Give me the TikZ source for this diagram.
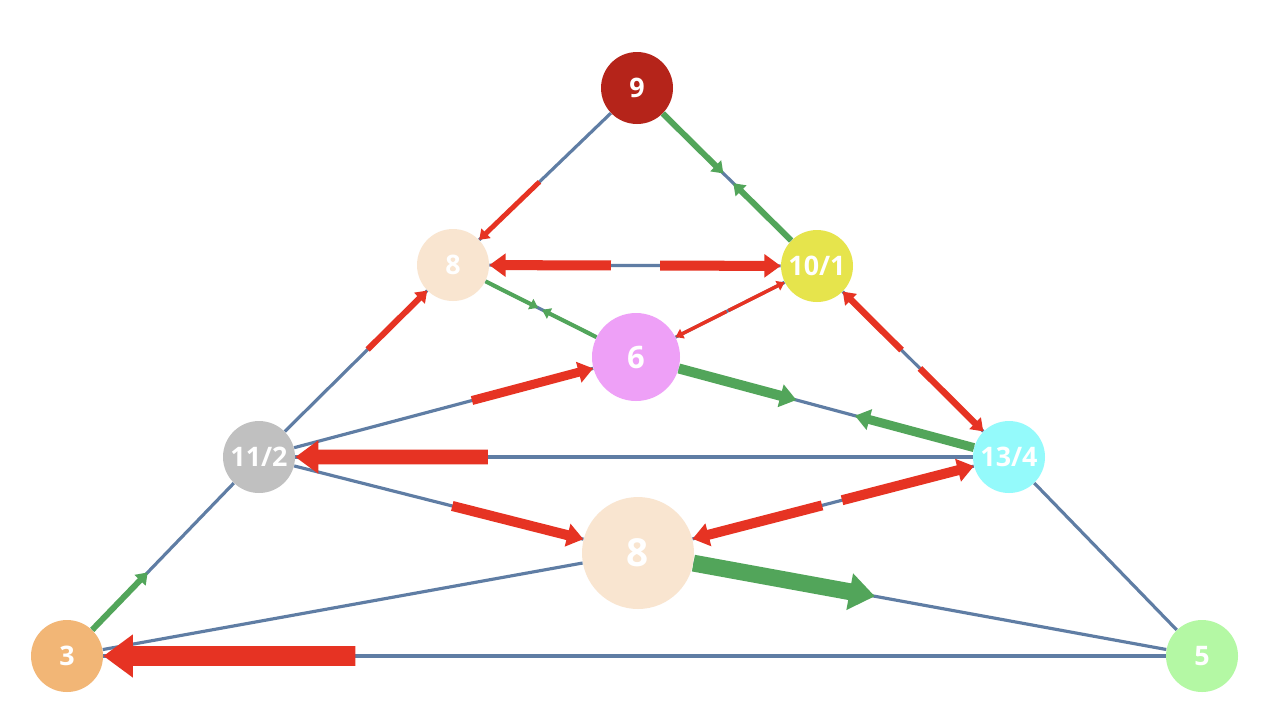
\documentclass[tikz,border=0pt]{standalone}
\usepackage{fontspec}
\newfontfamily\statefont{Open Sans}
\usetikzlibrary{arrows.meta,calc}

\definecolor{linkblue}{HTML}{5F7DA4}
\definecolor{flowred}{HTML}{E63323}
\definecolor{flowgreen}{HTML}{52A55A}
\definecolor{cnine}{HTML}{B5241A}
\definecolor{ceight}{HTML}{F9E5D0}
\definecolor{cten}{HTML}{E6E44C}
\definecolor{csix}{HTML}{EEA0F7}
\definecolor{celeven}{HTML}{C0C0C0}
\definecolor{cthirteen}{HTML}{94FAFB}
\definecolor{cthree}{HTML}{F2B676}
\definecolor{cfive}{HTML}{B4F8A4}

\begin{document}
\begin{tikzpicture}[x=0.02cm,y=-0.02cm,
    state/.style={circle,inner sep=0pt,minimum size=1.44cm,text=white,
      font=\statefont\bfseries\fontsize{15.3pt}{18pt}\selectfont},
    link/.style={linkblue,line width=1.8pt},
    redflow/.style={flowred,line width=#1,
      -{Triangle[length=1.6pt 1.35,width=2pt 1.9]}},
    greenflow/.style={flowgreen,line width=#1,
      -{Triangle[length=1.6pt 1.35,width=2pt 1.9]}}]
  \useasboundingbox[fill=white] (0,0) rectangle (1270,718);

  % states
  \node[state,fill=cnine] (n9) at (637,88) {9};
  \node[state,fill=ceight] (n8a) at (453,265) {8};
  \node[state,fill=cten] (n10) at (817,266) {10/1};
  \node[state,fill=csix,minimum size=1.76cm,
    font=\statefont\bfseries\fontsize{17.6pt}{20pt}\selectfont] (n6) at (636,357) {6};
  \node[state,fill=celeven] (n11) at (259,457) {11/2};
  \node[state,fill=cthirteen] (n13) at (1009,457) {13/4};
  \node[state,fill=ceight,minimum size=2.24cm,
    font=\statefont\bfseries\fontsize{22pt}{24pt}\selectfont] (n8b) at (638,553) {8};
  \node[state,fill=cthree] (n3) at (67,656) {3};
  \node[state,fill=cfive] (n5) at (1202,656) {5};

  % links
  \draw[link] (n9) -- (n8a);
  \draw[link] (n9) -- (n10);
  \draw[link] (n8a) -- (n10);
  \draw[link] (n8a) -- (n6);
  \draw[link] (n6) -- (n10);
  \draw[link] (n8a) -- (n11);
  \draw[link] (n10) -- (n13);
  \draw[link] (n11) -- (n6);
  \draw[link] (n6) -- (n13);
  \draw[link] (n11) -- (n13);
  \draw[link] (n11) -- (n8b);
  \draw[link] (n8b) -- (n13);
  \draw[link] (n3) -- (n11);
  \draw[link] (n13) -- (n5);
  \draw[link] (n3) -- (n8b);
  \draw[link] (n8b) -- (n5);
  \draw[link] (n3) -- (n5);

  % flows
  \draw[redflow=2.8pt] ($(n9)!0.53!(n8a)$) -- (n8a);
  \draw[greenflow=3.4pt] (n9) -- ($(n9)!0.48!(n10)$);
  \draw[greenflow=3.4pt] (n10) -- ($(n9)!0.535!(n10)$);
  \draw[redflow=5.7pt] ($(n8a)!0.434!(n10)$) -- (n8a);
  \draw[redflow=5.7pt] ($(n8a)!0.569!(n10)$) -- (n10);
  \draw[greenflow=2.3pt] (n8a) -- ($(n8a)!0.465!(n6)$);
  \draw[greenflow=2.3pt] (n6) -- ($(n8a)!0.487!(n6)$);
  \draw[redflow=2pt] ($(n6)!0.50!(n10)$) -- (n6);
  \draw[redflow=2pt] ($(n6)!0.51!(n10)$) -- (n10);
  \draw[redflow=3.4pt] ($(n11)!0.56!(n8a)$) -- (n8a);
  \draw[redflow=3.7pt] ($(n10)!0.44!(n13)$) -- (n10);
  \draw[redflow=3.7pt] ($(n10)!0.536!(n13)$) -- (n13);
  \draw[redflow=5.1pt] ($(n11)!0.565!(n6)$) -- (n6);
  \draw[greenflow=5.7pt] (n6) -- ($(n6)!0.43!(n13)$);
  \draw[greenflow=5.1pt] (n13) -- ($(n6)!0.587!(n13)$);
  \draw[redflow=8.5pt] ($(n11)!0.305!(n13)$) -- (n11);
  \draw[redflow=5.7pt] ($(n11)!0.51!(n8b)$) -- (n8b);
  \draw[redflow=5.7pt] ($(n8b)!0.496!(n13)$) -- (n8b);
  \draw[redflow=5.7pt] ($(n8b)!0.55!(n13)$) -- (n13);
  \draw[greenflow=3.4pt] (n3) -- ($(n3)!0.42!(n11)$);
  \draw[greenflow=9.6pt] (n8b) -- ($(n8b)!0.42!(n5)$);
  \draw[redflow=11.3pt] ($(n3)!0.254!(n5)$) -- (n3);
\end{tikzpicture}
\end{document}
